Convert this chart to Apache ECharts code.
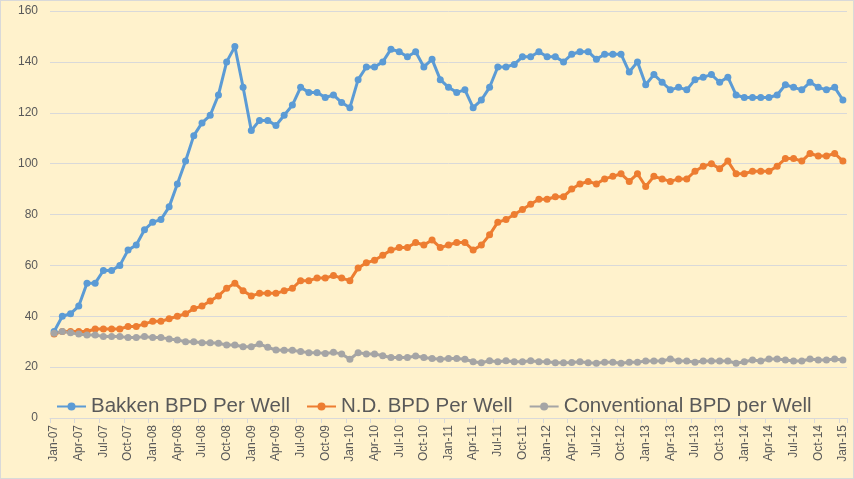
<!DOCTYPE html>
<html>
<head>
<meta charset="utf-8">
<script src="https://cdn.jsdelivr.net/npm/echarts@6/dist/echarts.min.js"></script>
<style>
html,body{margin:0;padding:0;background:#FFF2CC;}
#c{width:854px;height:479px;box-sizing:border-box;border:1px solid #D9D9D9;}
</style>
</head>
<body>
<div id="c"></div>
<script>
var categories = [
'Jan-07','Feb-07','Mar-07','Apr-07','May-07','Jun-07','Jul-07','Aug-07','Sep-07','Oct-07','Nov-07','Dec-07',
'Jan-08','Feb-08','Mar-08','Apr-08','May-08','Jun-08','Jul-08','Aug-08','Sep-08','Oct-08','Nov-08','Dec-08',
'Jan-09','Feb-09','Mar-09','Apr-09','May-09','Jun-09','Jul-09','Aug-09','Sep-09','Oct-09','Nov-09','Dec-09',
'Jan-10','Feb-10','Mar-10','Apr-10','May-10','Jun-10','Jul-10','Aug-10','Sep-10','Oct-10','Nov-10','Dec-10',
'Jan-11','Feb-11','Mar-11','Apr-11','May-11','Jun-11','Jul-11','Aug-11','Sep-11','Oct-11','Nov-11','Dec-11',
'Jan-12','Feb-12','Mar-12','Apr-12','May-12','Jun-12','Jul-12','Aug-12','Sep-12','Oct-12','Nov-12','Dec-12',
'Jan-13','Feb-13','Mar-13','Apr-13','May-13','Jun-13','Jul-13','Aug-13','Sep-13','Oct-13','Nov-13','Dec-13',
'Jan-14','Feb-14','Mar-14','Apr-14','May-14','Jun-14','Jul-14','Aug-14','Sep-14','Oct-14','Nov-14','Dec-14',
'Jan-15'];

var bakken = [
34,40,41,44,53,53,58,58,60,66,68,74,
77,78,83,92,101,111,116,119,127,140,146,130,
113,117,117,115,119,123,130,128,128,126,127,124,
122,133,138,138,140,145,144,142,144,138,141,133,
130,128,129,122,125,130,138,138,139,142,142,144,
142,142,140,143,144,144,141,143,143,143,136,140,
131,135,132,129,130,129,133,134,135,132,134,127,
126,126,126,126,127,131,130,129,132,130,129,130,
125];

var nd = [
33,34,34,34,34,35,35,35,35,36,36,37,
38,38,39,40,41,43,44,46,48,51,53,50,
48,49,49,49,50,51,54,54,55,55,56,55,
54,59,61,62,64,66,67,67,69,68,70,67,
68,69,69,66,68,72,77,78,80,82,84,86,
86,87,87,90,92,93,92,94,95,96,93,96,
91,95,94,93,94,94,97,99,100,98,101,96,
96,97,97,97,99,102,102,101,104,103,103,104,
101];

var conventional = [
33.3,34,33.5,33,32.6,32.6,32,32,32,31.6,31.6,32,
31.6,31.6,31.1,30.7,30,30,29.6,29.6,29.4,28.7,28.7,28,
28,29.1,27.8,26.7,26.6,26.6,26.1,25.7,25.7,25.4,25.8,25.2,
23.1,25.7,25.2,25.2,24.5,23.8,23.8,23.8,24.4,23.8,23.4,23.1,
23.4,23.4,23.1,22.1,21.7,22.5,22.1,22.5,22.1,22.1,22.5,22.1,
22.1,21.7,21.7,21.8,22.1,21.7,21.5,21.9,21.9,21.5,21.9,21.9,
22.4,22.4,22.4,23.2,22.4,22.4,21.9,22.4,22.4,22.4,22.4,21.5,
22.1,22.8,22.4,23.2,23.2,22.8,22.4,22.4,23.2,22.8,22.8,23.2,
22.8];

var yTicks = [0,20,40,60,80,100,120,140,160];

var chart = echarts.init(document.getElementById('c'), null, {renderer:'canvas'});
var font = '"Liberation Sans", Arial, sans-serif';
function mk(name, data, color){
  return {
    name:name, type:'line', data:data,
    symbol:'circle', symbolSize:7, showSymbol:true, showAllSymbol:true,
    lineStyle:{color:color, width:3},
    itemStyle:{color:color},
    animation:false, z:2
  };
}
chart.setOption({
  backgroundColor:'#FFF2CC',
  animation:false,
  textStyle:{fontFamily:font},
  grid:{left:49, right:6, top:10, bottom:60, containLabel:false},
  legend:{
    left:50, top:390, itemGap:16, itemWidth:29, itemHeight:10,
    textStyle:{fontSize:20.5, color:'#595959', fontFamily:font},
    data:['Bakken BPD Per Well','N.D. BPD Per Well','Conventional BPD per Well']
  },
  xAxis:{
    type:'category', data:categories, boundaryGap:true,
    axisLine:{lineStyle:{color:'#D9D9D9', width:1}},
    axisTick:{show:true, interval:2, length:5, alignWithLabel:false, lineStyle:{color:'#D9D9D9'}},
    axisLabel:{interval:2, rotate:90, fontSize:12, color:'#595959', margin:7, fontFamily:font},
    splitLine:{show:false}
  },
  yAxis:{
    type:'value', min:yTicks[0], max:yTicks[yTicks.length-1], interval:20,
    axisLine:{show:false}, axisTick:{show:false},
    axisLabel:{fontSize:12, color:'#595959', margin:12, fontFamily:font},
    splitLine:{lineStyle:{color:'#D9D9D9', width:1}}
  },
  series:[
    mk('Bakken BPD Per Well', bakken, '#5B9BD5'),
    mk('N.D. BPD Per Well', nd, '#ED7D31'),
    mk('Conventional BPD per Well', conventional, '#A5A5A5')
  ]
});
</script>
</body>
</html>
